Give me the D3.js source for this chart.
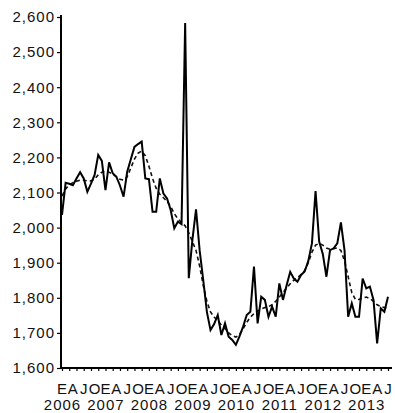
<!DOCTYPE html>
<html>
<head>
<meta charset="utf-8">
<script src="https://cdn.jsdelivr.net/npm/d3@7/dist/d3.min.js"></script>
<style>
  body { margin: 0; background: #fff; }
  text { font-family: "Liberation Sans", Arial, sans-serif; fill: #111; }
</style>
</head>
<body>
<div id="chart"></div>
<script>
// monthly series, Jan 2006 .. Jul 2013
const startYear = 2006;
const years = [2006, 2007, 2008, 2009, 2010, 2011, 2012, 2013];
const quarterLabels = ["E", "A", "J", "O"];
const yTicks = [1600, 1700, 1800, 1900, 2000, 2100, 2200, 2300, 2400, 2500, 2600];

const serie = [
  2036, 2128, 2125, 2121, 2140, 2158, 2140, 2102, 2125, 2150, 2207, 2190,
  2107, 2186, 2155, 2145, 2120, 2088, 2159, 2195, 2230, 2238, 2245, 2140,
  2138, 2045, 2045, 2140, 2097, 2083, 2050, 1998, 2017, 2010, 2583, 1856,
  1965, 2052, 1935, 1850, 1760, 1708, 1725, 1751, 1694, 1727, 1689, 1680,
  1666, 1690, 1718, 1751, 1760, 1889, 1727, 1803, 1794, 1746, 1775, 1746,
  1841, 1794, 1835, 1874, 1855, 1846, 1865, 1875, 1905, 1955, 2104, 1960,
  1925, 1860, 1936, 1941, 1955, 2015, 1935, 1746, 1784, 1746, 1746, 1855,
  1827, 1832, 1794, 1670, 1770, 1760, 1803
];

const tendencia = [
  2090, 2110, 2122, 2128, 2132, 2135, 2135, 2133, 2133, 2138, 2150, 2158,
  2160, 2158, 2152, 2145, 2138, 2135, 2145, 2170, 2195, 2212, 2218, 2205,
  2175, 2140, 2112, 2095, 2085, 2075, 2060, 2040, 2025, 2015, 2005, 1985,
  1960, 1935, 1890, 1835, 1790, 1760, 1745, 1735, 1722, 1712, 1700, 1692,
  1688, 1695, 1712, 1730, 1745, 1755, 1762, 1768, 1772, 1775, 1780, 1790,
  1802, 1815, 1828, 1840, 1850, 1858, 1866, 1878, 1900, 1930, 1950, 1955,
  1950, 1942, 1938, 1940, 1942, 1935, 1905, 1860, 1815, 1795, 1795, 1800,
  1802, 1798, 1790, 1780, 1775, 1772, 1772
];

const width = 395, height = 413;
const n = serie.length;

const svg = d3.select("#chart").append("svg")
  .attr("width", width)
  .attr("height", height);

const x = d3.scaleLinear().domain([0, n - 1]).range([62, 388]);
const y = d3.scaleLinear().domain([1600, 2600]).range([368, 17]);

// y axis
const yAxis = svg.append("g")
  .attr("transform", "translate(61,0)")
  .call(d3.axisLeft(y).tickValues(yTicks).tickSize(4).tickPadding(2)
    .tickFormat(d3.format(",")));
yAxis.select(".domain").attr("stroke-width", 2).attr("d", `M0,${y(2600) - 2}V${y(1600)}`);
yAxis.selectAll(".tick line").attr("stroke-width", 1.2);
yAxis.selectAll("text")
  .attr("font-size", 15)
  .attr("letter-spacing", 1)
  .attr("fill", "#111");

// x axis: ticks every two months
const monthIdx = d3.range(n);
const xAxis = svg.append("g")
  .attr("transform", `translate(0,${y(1600)})`)
  .call(d3.axisBottom(x).tickValues(monthIdx.filter(i => i % 2 === 0))
    .tickSize(3).tickFormat("").tickSizeOuter(0));
xAxis.select(".domain").attr("stroke-width", 2).attr("d", `M${x(0) - 1},0H${x(n - 1) + 4}`);
xAxis.selectAll(".tick line").attr("stroke-width", 1.2);

// quarter letters
svg.append("g").selectAll("text")
  .data(monthIdx.filter(i => i % 3 === 0))
  .join("text")
    .attr("x", d => x(d))
    .attr("y", 394)
    .attr("text-anchor", "middle")
    .attr("font-size", 15)
    .text(d => quarterLabels[(d / 3) % 4]);

// years under each January
svg.append("g").selectAll("text")
  .data(years)
  .join("text")
    .attr("x", d => x((d - startYear) * 12) + 0.5)
    .attr("y", 410)
    .attr("text-anchor", "middle")
    .attr("font-size", 15)
    .attr("letter-spacing", 1)
    .text(d => d);

// lines
const line = d3.line().x((d, i) => x(i)).y(d => y(d));

svg.append("path")
  .datum(tendencia)
  .attr("fill", "none")
  .attr("stroke", "#111")
  .attr("stroke-width", 1.6)
  .attr("stroke-dasharray", "4,3")
  .attr("d", line);

svg.append("path")
  .datum(serie)
  .attr("fill", "none")
  .attr("stroke", "#000")
  .attr("stroke-width", 2)
  .attr("stroke-linejoin", "miter")
  .attr("d", line);
</script>
</body>
</html>
